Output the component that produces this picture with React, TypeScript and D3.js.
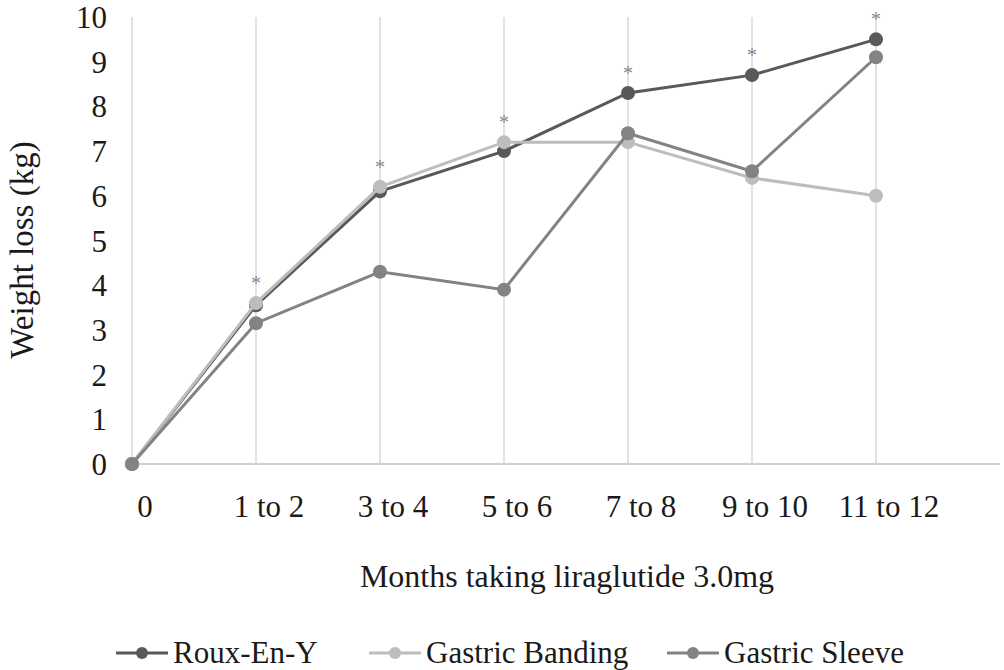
import React from "react";
import * as d3 from "d3";

const categories = ["0", "1 to 2", "3 to 4", "5 to 6", "7 to 8", "9 to 10", "11 to 12", ""];
const rouxEnY = [0, 3.55, 6.1, 7.0, 8.3, 8.7, 9.5];
const gastricBanding = [0, 3.6, 6.2, 7.2, 7.2, 6.4, 6.0];
const gastricSleeve = [0, 3.15, 4.3, 3.9, 7.4, 6.55, 9.1];
const yTicks = [0, 1, 2, 3, 4, 5, 6, 7, 8, 9, 10];
const significant = ["1 to 2", "3 to 4", "5 to 6", "7 to 8", "9 to 10", "11 to 12"];

const series = [
  { name: "Roux-En-Y", values: rouxEnY, color: "#595959" },
  { name: "Gastric Banding", values: gastricBanding, color: "#bdbdbd" },
  { name: "Gastric Sleeve", values: gastricSleeve, color: "#838383" },
];

const W = 1004;
const H = 670;
const FONT = "'Liberation Serif', 'Times New Roman', serif";

export default function App() {
  const x = d3.scalePoint<string>().domain(categories).range([132, 1000]);
  const y = d3.scaleLinear().domain([0, 10]).range([464, 17]);
  const line = d3
    .line<number>()
    .x((_, i) => x(categories[i]) as number)
    .y((d) => y(d));

  const legendX = [116, 369, 667];

  return (
    <svg
      width={W}
      height={H}
      style={{ position: "absolute", left: 0, top: 0, background: "#fff" }}
      fontFamily={FONT}
    >
      <rect width={W} height={H} fill="#fff" />
      {/* vertical gridlines */}
      {categories.filter((c) => c !== "").map((c, i) => (
        <line
          key={"g" + i}
          x1={x(c)}
          x2={x(c)}
          y1={y(10)}
          y2={y(0)}
          stroke="#d9d9d9"
          strokeWidth={1.5}
        />
      ))}
      {/* x axis */}
      <line x1={x(categories[0])} x2={x(categories[categories.length - 1])} y1={y(0)} y2={y(0)} stroke="#d0d0d0" strokeWidth={2} />
      {/* y tick labels */}
      {yTicks.map((t) => (
        <text key={"y" + t} x={107} y={y(t) + 11} textAnchor="end" fontSize={31} fill="#1a1a1a">
          {t}
        </text>
      ))}
      {/* x tick labels */}
      {categories.filter((c) => c !== "").map((c) => (
        <text key={"x" + c} x={(x(c) as number) + 13} y={517} textAnchor="middle" fontSize={31} fill="#1a1a1a">
          {c}
        </text>
      ))}
      {/* axis titles */}
      <text x={567} y={587} textAnchor="middle" fontSize={32} fill="#1a1a1a">
        Months taking liraglutide 3.0mg
      </text>
      <text
        transform={`translate(33, 250) rotate(-90)`}
        textAnchor="middle"
        fontSize={33}
        fill="#1a1a1a"
      >
        Weight loss (kg)
      </text>
      {/* series */}
      {series.map((s) => (
        <g key={s.name}>
          <path d={line(s.values) as string} fill="none" stroke={s.color} strokeWidth={3} />
          {s.values.map((v, i) => (
            <circle key={i} cx={x(categories[i])} cy={y(v)} r={7} fill={s.color} />
          ))}
        </g>
      ))}
      {/* significance asterisks */}
      {significant.map((c) => {
        const i = categories.indexOf(c);
        const m = Math.max(rouxEnY[i], gastricBanding[i], gastricSleeve[i]);
        return (
          <text key={"s" + c} x={x(c)} y={y(m) - 23 + 10} textAnchor="middle" fontSize={20} fill="#8a8a8a">
            *
          </text>
        );
      })}
      {/* legend */}
      {series.map((s, k) => (
        <g key={"l" + s.name} transform={`translate(${legendX[k]}, 653)`}>
          <line x1={0} x2={52} y1={0} y2={0} stroke={s.color} strokeWidth={3} />
          <circle cx={26} cy={0} r={6} fill={s.color} />
          <text x={57} y={10} fontSize={31} fill="#1a1a1a">
            {s.name}
          </text>
        </g>
      ))}
    </svg>
  );
}
